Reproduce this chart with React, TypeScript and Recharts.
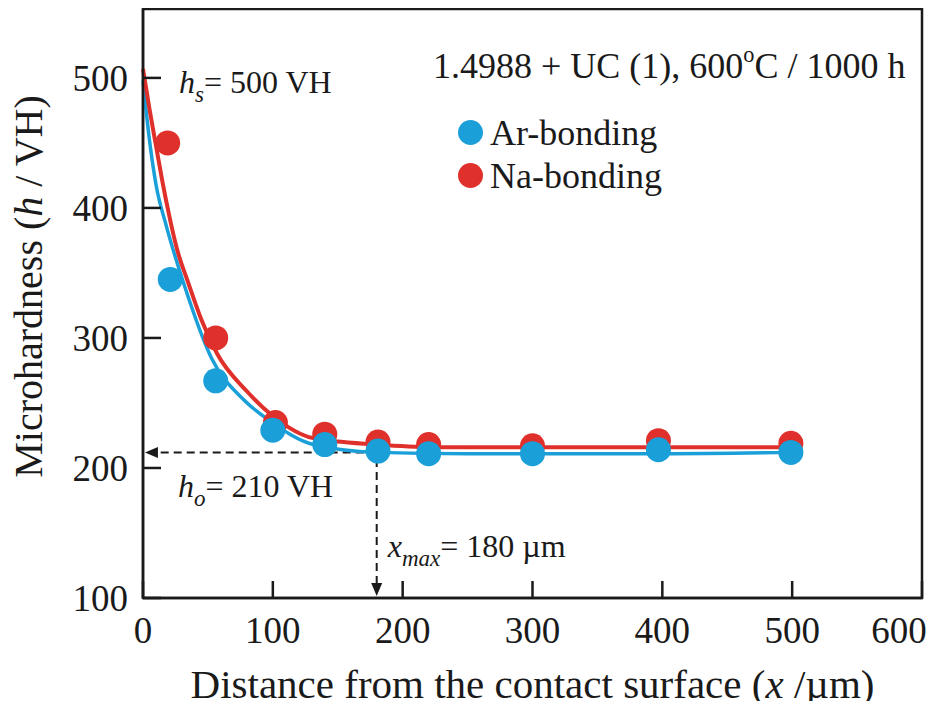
import {
  ComposedChart,
  Line,
  Scatter,
  XAxis,
  YAxis,
  Legend,
  ReferenceArea,
  ReferenceLine,
  ReferenceDot,
} from 'recharts'

// measured points
const arX = [21, 56, 100, 140, 181, 220, 300, 397, 499]
const arH = [345, 267, 229, 218, 213, 211, 211, 214, 212]
const naX = [19, 56, 102, 140, 181, 220, 300, 397, 499]
const naH = [450, 300, 235, 226, 220, 218, 217, 221, 219]

// fitted curves
const arFitX = [0, 5, 10, 18, 32, 53, 77, 98, 131, 180, 250, 300, 400, 500]
const arFitH = [498, 452, 418, 386, 340, 284, 253, 236, 218, 212, 211, 211, 211, 212]
const naFitX = [0, 5, 10, 15, 20, 26, 35, 45, 57, 80, 100, 131, 180, 223, 300, 400, 503]
const naFitH = [507, 476, 448, 420, 395, 369, 342, 314, 288, 259, 240, 223, 218, 216, 216, 216, 216]

const xTicks = [0, 100, 200, 300, 400, 500, 600]
const yTicks = [100, 200, 300, 400, 500]

const hSurface = 500
const hBulk = 212
const xMax = 180

const AR_COLOR = '#1a9fd9'
const NA_COLOR = '#e0302b'
const INK = '#1a1a1a'
const FONT = '"Liberation Serif", "Times New Roman", serif'

const toPoints = (xs: number[], hs: number[]) => xs.map((x, i) => ({ x, h: hs[i] }))

const arData = toPoints(arX, arH)
const naData = toPoints(naX, naH)
const arFit = toPoints(arFitX, arFitH)
const naFit = toPoints(naFitX, naFitH)

const SERIES = [
  { name: 'Ar-bonding', color: AR_COLOR },
  { name: 'Na-bonding', color: NA_COLOR },
]

const XTick = ({ x, y, payload }: any) => (
  <text
    x={payload.value === 600 ? x - 23 : x}
    y={y}
    dy="0.71em"
    textAnchor="middle"
    fontFamily={FONT}
    fontSize={37}
    fill={INK}
  >
    {payload.value}
  </text>
)

const YTick = ({ x, y, payload }: any) => (
  <text x={x} y={y} dy="0.35em" textAnchor="end" fontFamily={FONT} fontSize={37} fill={INK}>
    {payload.value}
  </text>
)

const XTitle = ({ viewBox }: any) => (
  <text
    x={viewBox.x + viewBox.width / 2}
    y={viewBox.y + 100}
    textAnchor="middle"
    fontFamily={FONT}
    fontSize={41}
    fill={INK}
  >
    Distance from the contact surface (<tspan fontStyle="italic">x</tspan> /µm)
  </text>
)

const YTitle = ({ viewBox }: any) => {
  const cx = viewBox.x + 42
  const cy = viewBox.y + viewBox.height / 2 - 17
  return (
    <text
      x={cx}
      y={cy}
      transform={`rotate(-90, ${cx}, ${cy})`}
      textAnchor="middle"
      fontFamily={FONT}
      fontSize={40}
      fill={INK}
    >
      Microhardness (<tspan fontStyle="italic">h</tspan> / VH)
    </text>
  )
}

const noteStyle = { fontFamily: FONT, fontSize: 32, fill: INK }

const HsNote = ({ viewBox }: any) => (
  <text x={viewBox.x + 36} y={viewBox.y + 15} style={noteStyle}>
    <tspan fontStyle="italic">h</tspan>
    <tspan fontStyle="italic" fontSize={23} dy={9}>s</tspan>
    <tspan dy={-9}>= 500 VH</tspan>
  </text>
)

const HoNote = ({ viewBox }: any) => (
  <text x={viewBox.x + 35} y={viewBox.y + 42} style={noteStyle}>
    <tspan fontStyle="italic">h</tspan>
    <tspan fontStyle="italic" fontSize={23} dy={9}>o</tspan>
    <tspan dy={-9}>= 210 VH</tspan>
  </text>
)

const XmaxNote = ({ viewBox }: any) => (
  <text x={viewBox.x + 11} y={viewBox.y - 41} style={noteStyle}>
    <tspan fontStyle="italic">x</tspan>
    <tspan fontStyle="italic" fontSize={23} dy={9}>max</tspan>
    <tspan dy={-9}>= 180 µm</tspan>
  </text>
)

// dashed line with a filled arrow head at the second point
const DashedArrow = (props: any) => {
  const { x1, y1, x2, y2 } = props
  const ang = Math.atan2(y2 - y1, x2 - x1)
  const len = 13
  const half = 5.5
  const bx = x2 - len * Math.cos(ang)
  const by = y2 - len * Math.sin(ang)
  const px = -Math.sin(ang) * half
  const py = Math.cos(ang) * half
  return (
    <g>
      <line x1={x1} y1={y1} x2={bx} y2={by} stroke={INK} strokeWidth={2} strokeDasharray="8 5" />
      <polygon points={`${x2},${y2} ${bx + px},${by + py} ${bx - px},${by - py}`} fill={INK} />
    </g>
  )
}

const LegendBox = () => (
  <div style={{ fontFamily: FONT, color: INK }}>
    <div style={{ fontSize: 36, lineHeight: '40px', whiteSpace: 'nowrap' }}>
      1.4988 + UC (1), 600
      <span style={{ fontSize: '0.62em', position: 'relative', top: '-0.72em' }}>o</span>C / 1000 h
    </div>
    <div style={{ marginTop: 20 }}>
      {SERIES.map((s) => (
        <div key={s.name} style={{ display: 'flex', alignItems: 'center', height: 43, fontSize: 36 }}>
          <div
            style={{
              width: 25,
              height: 25,
              borderRadius: '50%',
              background: s.color,
              marginLeft: 25,
              marginRight: 7,
            }}
          />
          <span>{s.name}</span>
        </div>
      ))}
    </div>
  </div>
)

const dotShape = (color: string) => (p: any) => <circle cx={p.cx} cy={p.cy} r={12.5} fill={color} />

export default function App() {
  return (
    <div style={{ margin: -8, width: 936, height: 709, background: '#fff' }}>
      <ComposedChart width={936} height={709} margin={{ top: 9, right: 14, left: 0, bottom: 0 }}>
        <XAxis
          dataKey="x"
          type="number"
          domain={[0, 600]}
          ticks={xTicks}
          height={111}
          tickSize={-17}
          tickMargin={36}
          tick={<XTick />}
          tickLine={{ stroke: INK, strokeWidth: 2.5 }}
          axisLine={{ stroke: INK, strokeWidth: 2.5 }}
          label={XTitle}
        />
        <YAxis
          type="number"
          domain={[100, 553]}
          ticks={yTicks}
          width={143}
          tickSize={-18}
          tickMargin={33}
          tick={<YTick />}
          tickLine={{ stroke: INK, strokeWidth: 2.5 }}
          axisLine={{ stroke: INK, strokeWidth: 2.5 }}
          label={YTitle}
        />
        <ReferenceArea
          x1={0}
          x2={600}
          y1={100}
          y2={553}
          fill="none"
          stroke={INK}
          strokeWidth={2.5}
          ifOverflow="visible"
        />
        <ReferenceLine
          segment={[{ x: xMax, y: hBulk }, { x: 1.5, y: hBulk }]}
          ifOverflow="visible"
          shape={DashedArrow}
        />
        <ReferenceLine
          segment={[{ x: xMax, y: hBulk - 5 }, { x: xMax, y: 101.5 }]}
          ifOverflow="visible"
          shape={DashedArrow}
        />
        <Scatter data={naData} dataKey="h" name="Na-bonding" shape={dotShape(NA_COLOR)} isAnimationActive={false} />
        <Scatter data={arData} dataKey="h" name="Ar-bonding" shape={dotShape(AR_COLOR)} isAnimationActive={false} />
        <Line
          data={arFit}
          dataKey="h"
          type="monotone"
          stroke={AR_COLOR}
          strokeWidth={3.5}
          dot={false}
          activeDot={false}
          legendType="none"
          isAnimationActive={false}
        />
        <Line
          data={naFit}
          dataKey="h"
          type="monotone"
          stroke={NA_COLOR}
          strokeWidth={4}
          dot={false}
          activeDot={false}
          legendType="none"
          isAnimationActive={false}
        />
        <ReferenceDot x={0} y={hSurface} r={0} ifOverflow="visible" label={HsNote} />
        <ReferenceDot x={0} y={210} r={0} ifOverflow="visible" label={HoNote} />
        <ReferenceDot x={xMax} y={100} r={0} ifOverflow="visible" label={XmaxNote} />
        <Legend
          layout="horizontal"
          verticalAlign="middle"
          content={<LegendBox />}
          wrapperStyle={{ top: 46, left: 433, width: 495 }}
        />
      </ComposedChart>
    </div>
  )
}
